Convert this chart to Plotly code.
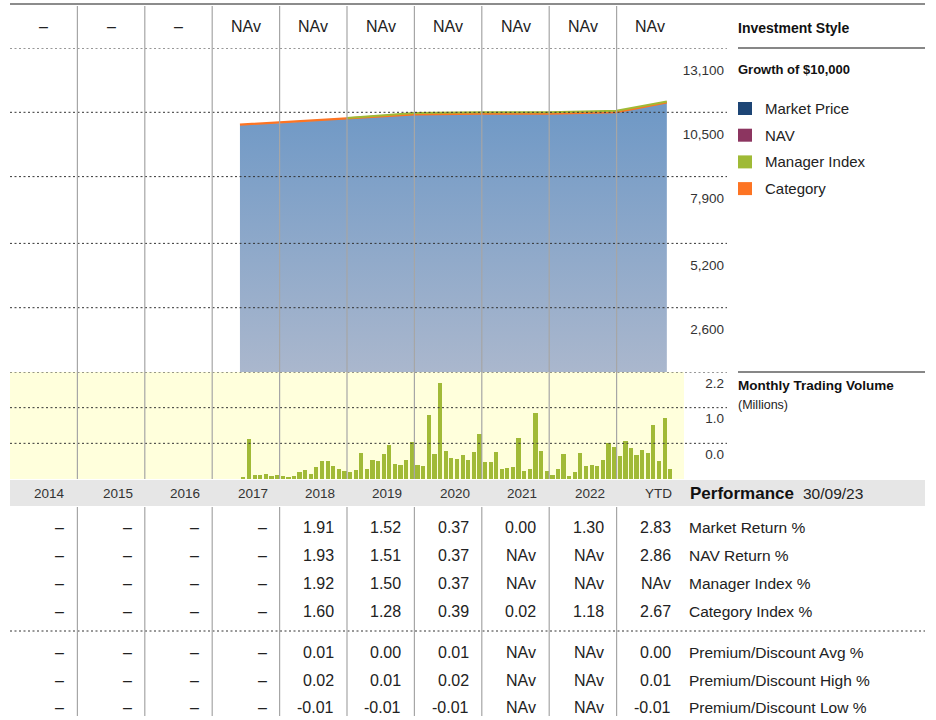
import plotly.graph_objects as go
import pandas as pd

# ---------------- data ----------------
years = ["2014", "2015", "2016", "2017", "2018", "2019", "2020", "2021", "2022", "YTD"]
investment_style = ["–", "–", "–", "NAv", "NAv", "NAv", "NAv", "NAv", "NAv", "NAv"]

growth_dates = ["2017-05-31", "2017-12-31", "2018-12-31", "2019-12-31",
                "2020-12-31", "2021-12-31", "2022-12-31", "2023-09-30"]
market_price = [10000, 10060, 10250, 10410, 10440, 10440, 10500, 10900]
category_growth = [10000, 10090, 10270, 10420, 10450, 10450, 10510, 10900]
manager_dates = ["2018-12-31", "2019-12-31", "2020-12-31", "2021-12-31", "2022-12-31", "2023-09-30"]
manager_growth = [10270, 10470, 10500, 10500, 10560, 10940]

growth_ticks = [2600, 5200, 7900, 10500, 13100]
growth_ticktext = ["2,600", "5,200", "7,900", "10,500", "13,100"]

volume_millions = [
    0.04, 0.82, 0.08, 0.08, 0.10, 0.055, 0.08,
    0.055, 0.04, 0.055, 0.15, 0.185, 0.11, 0.25, 0.37, 0.38, 0.27, 0.21, 0.17,
    0.15, 0.185, 0.53, 0.20, 0.40, 0.38, 0.51, 0.69, 0.31, 0.29, 0.40, 0.76,
    0.29, 0.27, 1.32, 0.51, 1.98, 0.58, 0.43, 0.41, 0.49, 0.40, 0.56, 0.92,
    0.35, 0.35, 0.55, 0.21, 0.23, 0.24, 0.84, 0.16, 0.21, 1.35, 0.58, 0.16,
    0.08, 0.20, 0.51, 0.06, 0.15, 0.54, 0.27, 0.29, 0.27, 0.39, 0.75, 0.65,
    0.47, 0.79, 0.64, 0.49, 0.60, 0.53, 1.11, 0.37, 1.25, 0.20,
]
volume_months = pd.date_range("2017-05-31", "2023-09-30", freq="ME")
volume_ticks = [0.7333, 1.4667, 2.2]
volume_ticktext = ["0.0", "1.0", "2.2"]

row_labels = ["Market Return %", "NAV Return %", "Manager Index %", "Category Index %",
              "Premium/Discount Avg %", "Premium/Discount High %", "Premium/Discount Low %"]
market_return = ["–", "–", "–", "–", "1.91", "1.52", "0.37", "0.00", "1.30", "2.83"]
nav_return = ["–", "–", "–", "–", "1.93", "1.51", "0.37", "NAv", "NAv", "2.86"]
manager_index = ["–", "–", "–", "–", "1.92", "1.50", "0.37", "NAv", "NAv", "NAv"]
category_index = ["–", "–", "–", "–", "1.60", "1.28", "0.39", "0.02", "1.18", "2.67"]
prem_avg = ["–", "–", "–", "–", "0.01", "0.00", "0.01", "NAv", "NAv", "0.00"]
prem_high = ["–", "–", "–", "–", "0.02", "0.01", "0.02", "NAv", "NAv", "0.01"]
prem_low = ["–", "–", "–", "–", "-0.01", "-0.01", "-0.01", "NAv", "NAv", "-0.01"]
table_rows = [market_return, nav_return, manager_index, category_index, prem_avg, prem_high, prem_low]

legend_names = ["Market Price", "NAV", "Manager Index", "Category"]
legend_colors = ["#1d4575", "#8c3560", "#9fba36", "#fd7423"]

# ---------------- layout helpers ----------------
W, H = 936, 720
def X(px): return px / W
def Y(py): return 1 - py / H

FONT = "Liberation Sans, Arial, sans-serif"
TXT = "#222222"
col_edges = [10 + i * 67.4 for i in range(11)]

fig = go.Figure()

# growth area (market price) with gradient
fig.add_trace(go.Scatter(
    x=growth_dates, y=market_price, mode="lines", name="Market Price",
    line=dict(color="#7ea3cb", width=1), fill="tozeroy",
    fillgradient=dict(type="vertical", colorscale=[[0, "#aab7cd"], [1, "#7099c6"]],
                      start=0, stop=10500),
    xaxis="x", yaxis="y", showlegend=False, hoverinfo="skip"))
fig.add_trace(go.Scatter(
    x=growth_dates, y=category_growth, mode="lines", name="Category",
    line=dict(color=legend_colors[3], width=2.2), xaxis="x", yaxis="y", showlegend=False))
fig.add_trace(go.Scatter(
    x=manager_dates, y=manager_growth, mode="lines", name="Manager Index",
    line=dict(color=legend_colors[2], width=2), xaxis="x", yaxis="y", showlegend=False))

DAY = 86400000
fig.add_trace(go.Bar(
    x=volume_months, y=volume_millions, xaxis="x2", yaxis="y2",
    marker=dict(color="#a1ba37", line=dict(width=0)),
    width=23 * DAY, offset=7 * DAY, showlegend=False))

shapes = []
# yellow volume background, grey band
shapes.append(dict(type="rect", xref="paper", yref="paper", x0=X(10), x1=X(684), y0=Y(479), y1=Y(372),
                   fillcolor="#ffffdc", line=dict(width=0), layer="below"))
shapes.append(dict(type="rect", xref="paper", yref="paper", x0=X(10), x1=X(925), y0=Y(506), y1=Y(480),
                   fillcolor="#e6e6e6", line=dict(width=0), layer="below"))
# top rule
shapes.append(dict(type="line", xref="paper", yref="paper", x0=X(10), x1=X(925), y0=Y(4), y1=Y(4),
                   line=dict(color="#8c8c8c", width=2)))
DOT = dict(color="#333333", width=1, dash="2px,2.5px")
for v in growth_ticks:
    shapes.append(dict(type="line", xref="paper", yref="y", x0=X(10), x1=X(727), y0=v, y1=v, line=DOT))
for v in volume_ticks:
    shapes.append(dict(type="line", xref="paper", yref="y2", x0=X(10), x1=X(727), y0=v, y1=v, line=DOT))
shapes.append(dict(type="line", xref="paper", yref="paper", x0=X(10), x1=X(925), y0=Y(631), y1=Y(631), line=DOT))
# black rules on right
for py in (48, 372):
    shapes.append(dict(type="line", xref="paper", yref="paper", x0=X(738), x1=X(925), y0=Y(py), y1=Y(py),
                       line=dict(color="#111111", width=1.2)))
# column separators
for e in col_edges[1:-1]:
    for (a, b) in ((6, 479), (507, 716)):
        shapes.append(dict(type="line", xref="paper", yref="paper", x0=X(e), x1=X(e), y0=Y(a), y1=Y(b),
                           line=dict(color="#a6a6a6", width=1.2), layer="above"))
# legend squares
for i, c in enumerate(legend_colors):
    cy = 108.5 + i * 26.7
    shapes.append(dict(type="rect", xref="paper", yref="paper", x0=X(738), x1=X(752),
                       y0=Y(cy + 6.5), y1=Y(cy - 6.5), fillcolor=c, line=dict(width=0)))

ann = []
def text(x, y, s, size=16, anchor="left", bold=False, color=TXT):
    ann.append(dict(xref="paper", yref="paper", x=X(x), y=Y(y), text=("<b>%s</b>" % s) if bold else s,
                    showarrow=False, xanchor=anchor, yanchor="middle",
                    font=dict(family=FONT, size=size, color=color)))

for i, s in enumerate(investment_style):
    text((col_edges[i] + col_edges[i + 1]) / 2, 27, s, 16, "center")
for i, s in enumerate(years):
    text(col_edges[i + 1] - 10, 493, s, 13.5, "right", color="#333333")
text(688, 493, "Performance", 17, "left", bold=True, color="#111111")
text(801, 493, "30/09/23", 15.5, "left")

row_y = [527, 555, 583, 611, 652, 680, 707]
for r, (vals, lab) in enumerate(zip(table_rows, row_labels)):
    for i, s in enumerate(vals):
        text(col_edges[i + 1] - 11, row_y[r], s, 16, "right")
    text(687, row_y[r], lab, 15.5, "left")

text(736, 28, "Investment Style", 14, "left", bold=True, color="#111111")
text(736, 70, "Growth of $10,000", 13, "left", bold=True, color="#111111")
for i, n in enumerate(legend_names):
    text(763, 108.5 + i * 26.7, n, 15, "left")
text(736, 385, "Monthly Trading Volume", 13.5, "left", bold=True, color="#111111")
text(736, 405, "(Millions)", 12.5, "left")

xr = ["2014-01-01", "2024-01-01"]
fig.update_layout(
    width=W, height=H, margin=dict(l=0, r=0, t=0, b=0),
    paper_bgcolor="white", plot_bgcolor="rgba(0,0,0,0)",
    font=dict(family=FONT, color=TXT),
    bargap=0,
    xaxis=dict(domain=[X(10), X(684)], range=xr, type="date", visible=False, anchor="y", fixedrange=True),
    xaxis2=dict(domain=[X(10), X(684)], range=xr, type="date", visible=False, anchor="y2", fixedrange=True),
    yaxis=dict(domain=[Y(372), Y(48)], range=[0, 13100], anchor="free", position=X(727), side="right",
               ticklabelposition="inside", tickvals=growth_ticks, ticktext=growth_ticktext,
               ticklabelshift=22, ticks="", showgrid=False, zeroline=False, showline=False,
               tickfont=dict(family=FONT, size=13.5, color="#333333"), fixedrange=True),
    yaxis2=dict(domain=[Y(479), Y(372)], range=[0, 2.2], anchor="free", position=X(727), side="right",
                ticklabelposition="inside", tickvals=volume_ticks, ticktext=volume_ticktext,
                ticklabelshift=11, ticks="", showgrid=False, zeroline=False, showline=False,
                tickfont=dict(family=FONT, size=13.5, color="#333333"), fixedrange=True),
    shapes=shapes, annotations=ann, showlegend=False,
)

fig.write_html("out.html", config={"displayModeBar": False},
               post_script="document.body.style.margin='0';document.body.style.overflow='hidden';")
